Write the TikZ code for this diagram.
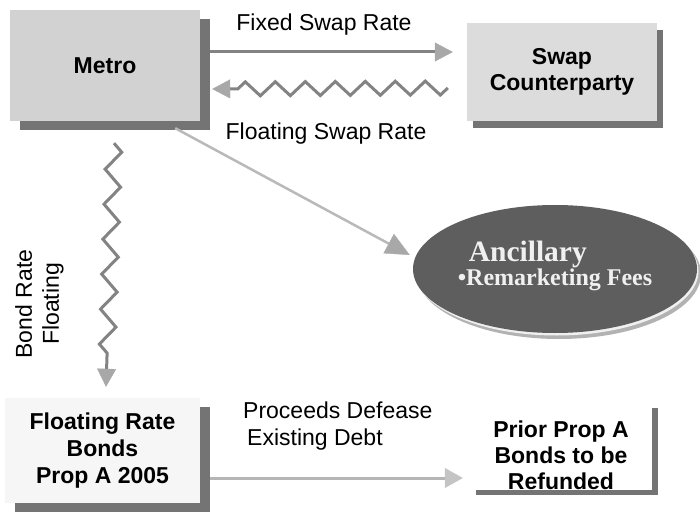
\documentclass[tikz,border=0pt]{standalone}
\usepackage{fontspec}
\setmainfont{Liberation Sans}
\newfontfamily\serifb{Liberation Serif}
\usetikzlibrary{arrows.meta,decorations.pathmorphing,shadows,shapes.geometric}
\definecolor{metrofill}{HTML}{D2D2D2}
\definecolor{swapfill}{HTML}{DCDCDC}
\definecolor{frbfill}{HTML}{F6F6F6}
\definecolor{shadowc}{HTML}{747474}
\definecolor{linec}{HTML}{838383}
\definecolor{headc}{HTML}{A8A8A8}
\definecolor{headl}{HTML}{C4C4C4}
\definecolor{ellfill}{HTML}{5E5E5E}
\begin{document}
\begin{tikzpicture}[x=1pt,y=-1pt,
  box/.style={rectangle, inner sep=0pt, align=center,
    font=\fontsize{23}{26}\selectfont\bfseries, text=black},
  lbl/.style={font=\fontsize{23}{27}\selectfont, text=black, inner sep=0pt},
  arr/.style={draw=linec, line width=3pt,
    -{Triangle[length=18pt,width=19pt,color=headc,fill=headc,line width=0.4pt]}},
  zz/.style={arr, decorate,
    decoration={zigzag, segment length=30pt, amplitude=7pt, post=lineto, post length=20pt}},
]
\useasboundingbox (0,0) rectangle (700,518);

% boxes
\node[box, fill=metrofill, minimum width=190pt, minimum height=111pt,
  general shadow={shadow xshift=10pt, shadow yshift=-9pt, fill=shadowc, opacity=1}]
  (metro) at (105,65.5) {Metro};
\node[box, fill=swapfill, minimum width=190pt, minimum height=98pt,
  general shadow={shadow xshift=6pt, shadow yshift=-7pt, fill=shadowc, opacity=1}]
  (swap) at (562,72) {Swap\\Counterparty};
\node[box, fill=frbfill, minimum width=195pt, minimum height=105pt,
  font=\fontsize{23}{27}\selectfont\bfseries,
  general shadow={shadow xshift=10pt, shadow yshift=-9pt, fill=shadowc, opacity=1}]
  (frb) at (102.5,450.5) {Floating Rate\\Bonds\\Prop A 2005};
\node[box, fill=white, minimum width=182pt, minimum height=83pt,
  general shadow={shadow xshift=6pt, shadow yshift=-5pt, fill=shadowc, opacity=1}]
  (prior) at (561,446.5) {\rule{0pt}{34pt}Prior Prop A\\Bonds to be\\Refunded};

% ellipse
\fill[gray!60] (559,274) ellipse [x radius=142pt, y radius=65pt];
\fill[gray!12] (556.5,271) ellipse [x radius=142pt, y radius=64.5pt];
\node[ellipse, fill=ellfill, inner sep=0pt, minimum width=284pt, minimum height=128pt,
  text=white!94!black, align=left]
  (anc) at (555,269) {\hspace*{11pt}{\serifb\bfseries\fontsize{29.5}{25}\selectfont Ancillary}\\
  {\serifb\bfseries\fontsize{24}{25}\selectfont\textbullet Remarketing Fees}\rule[-12pt]{0pt}{12pt}};

% labels
\node[lbl, anchor=base] (fixedlbl) at (324,31) {Fixed Swap Rate};
\node[lbl, anchor=base] (floatlbl) at (326,140) {Floating Swap Rate};
\node[lbl, anchor=north west, align=left] (proclbl) at (243,402) {Proceeds Defease\\\hspace*{4pt}Existing Debt};
\node[lbl, rotate=90, align=center] (bondlbl) at (39.5,304) {Bond Rate\\Floating};

% connectors
\draw[arr] ([xshift=10pt,yshift=13.5pt]metro.east) -- ([xshift=-14pt,yshift=20pt]swap.west);
\draw[zz] ([xshift=-19pt,yshift=-16pt]swap.west) -- ([xshift=12pt,yshift=-23.5pt]metro.east);
\draw[arr, draw=gray!55, line width=2.5pt,
  -{Triangle[length=24pt,width=22pt,color=headc,fill=headc,line width=0.4pt]}]
  ([xshift=-25pt,yshift=-7pt]metro.south east) -- ([xshift=-3pt,yshift=14pt]anc.west);
\draw[zz, decoration={zigzag, segment length=35pt, amplitude=8pt, post=lineto, post length=22pt}]
  ([xshift=9pt,yshift=-22pt]metro.south) -- ([xshift=3.5pt,yshift=11pt]frb.north);
\draw[arr, draw=gray!58, -{Triangle[length=18pt,width=20pt,color=headl,fill=headl,line width=0.4pt]}]
  ([xshift=10pt,yshift=-27.5pt]frb.east) -- ([xshift=-7pt,yshift=-31.5pt]prior.west);
\end{tikzpicture}
\end{document}
